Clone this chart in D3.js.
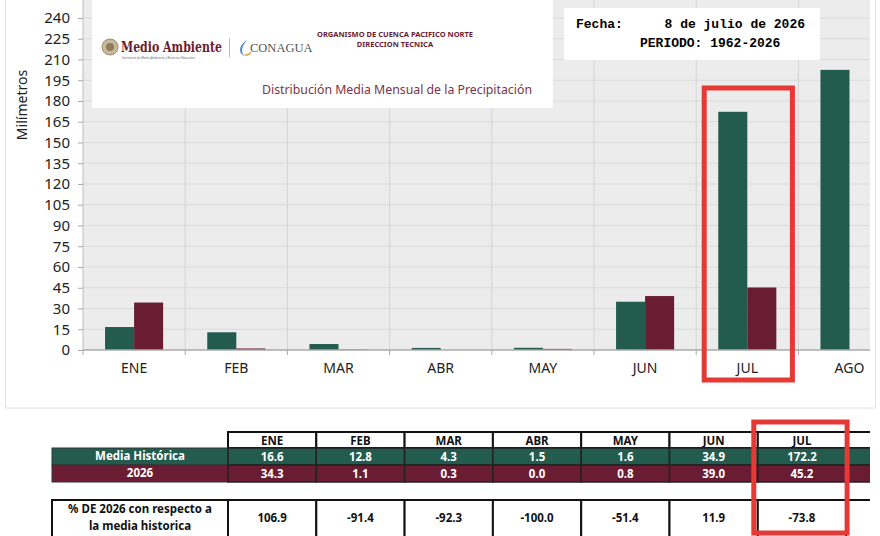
<!DOCTYPE html>
<html>
<head>
<meta charset="utf-8">
<script src="https://cdn.jsdelivr.net/npm/d3@7"></script>
<style>
  body { margin: 0; background: #fff; }
  text { font-family: "Noto Sans", sans-serif; }
  .mono { font-family: "Liberation Mono", "DejaVu Sans Mono", monospace; font-weight: bold; }
</style>
</head>
<body>
<svg id="chart" width="880" height="536"></svg>
<script>
// --- data ---
const months = ["ENE", "FEB", "MAR", "ABR", "MAY", "JUN", "JUL", "AGO"];
const mediaHistorica = [16.6, 12.8, 4.3, 1.5, 1.6, 34.9, 172.2, 202.5];
const lluvia2026 = [34.3, 1.1, 0.3, 0.0, 0.8, 39.0, 45.2, null];
const pctRespecto = [106.9, -91.4, -92.3, -100.0, -51.4, 11.9, -73.8, null];
const yTicks = d3.range(0, 241, 15);
const highlight = "JUL";

const GREEN = "#235b4e", MAROON = "#691c32";

const svg = d3.select("#chart");

// outer frame of the chart part
svg.append("rect").attr("x", 5.5).attr("y", -2).attr("width", 870).attr("height", 410)
    .attr("fill", "none").attr("stroke", "#e2e2e2");

// --- scales ---
const x = d3.scaleBand().domain(months).range([83, 83 + 8 * 102.2]);
const xIn = d3.scaleBand().domain(["media", "y2026"]).range([0, x.bandwidth()]).paddingInner(0).paddingOuter(0.76);
const y = d3.scaleLinear().domain([0, 240]).range([350, 18]);

const plot = svg.append("g");
plot.append("clipPath").attr("id", "clip").append("rect").attr("x", 83).attr("y", 0).attr("width", 787).attr("height", 352);
const inner = plot.append("g").attr("clip-path", "url(#clip)");

inner.append("rect").attr("x", 83).attr("y", 0).attr("width", 787).attr("height", 350).attr("fill", "#ececec");

// grid
inner.append("g").selectAll("line").data(yTicks.slice(1)).join("line")
    .attr("x1", 83).attr("x2", 870).attr("y1", d => y(d)).attr("y2", d => y(d))
    .attr("stroke", "#dadada");
inner.append("g").selectAll("line").data(months.slice(1)).join("line")
    .attr("x1", d => x(d)).attr("x2", d => x(d)).attr("y1", 0).attr("y2", 350)
    .attr("stroke", "#d4d4d4");

// bars
const groups = inner.append("g").selectAll("g").data(months).join("g")
    .attr("transform", d => `translate(${x(d)},0)`);
groups.append("rect")
    .attr("x", xIn("media")).attr("width", xIn.bandwidth())
    .attr("y", (d, i) => y(mediaHistorica[i])).attr("height", (d, i) => y(0) - y(mediaHistorica[i]))
    .attr("fill", GREEN);
groups.filter((d, i) => lluvia2026[i] != null).append("rect")
    .attr("x", xIn("y2026")).attr("width", xIn.bandwidth())
    .attr("y", d => y(lluvia2026[months.indexOf(d)]))
    .attr("height", d => Math.max(y(0) - y(lluvia2026[months.indexOf(d)]), 0))
    .attr("fill", MAROON);

// axes
const yAxis = svg.append("g").attr("transform", "translate(83,0)")
    .call(d3.axisLeft(y).tickValues(yTicks).tickSize(5).tickPadding(8));
yAxis.select(".domain").attr("d", "M0,0V350").attr("stroke", "#bbb");
yAxis.selectAll(".tick line").attr("stroke", "#aaa");
yAxis.selectAll("text").style("font-size", "15px").attr("fill", "#222");

const xAxis = svg.append("g").attr("transform", "translate(0,350)");
xAxis.append("line").attr("x1", 83).attr("x2", 870).attr("stroke", "#aaa").attr("stroke-width", 1.5);
xAxis.selectAll("line.tk").data(months).join("line").attr("class", "tk")
    .attr("x1", d => x(d)).attr("x2", d => x(d)).attr("y1", 0).attr("y2", 5).attr("stroke", "#aaa");
xAxis.selectAll("text").data(months).join("text")
    .attr("x", d => x(d) + x.bandwidth() / 2).attr("y", 23)
    .attr("text-anchor", "middle").style("font-size", "14px").attr("fill", "#222").text(d => d);

svg.append("text").attr("transform", "translate(27,105) rotate(-90)")
    .attr("text-anchor", "middle").style("font-size", "14px").attr("fill", "#222").text("Milímetros");

// --- logo box ---
const logo = svg.append("g");
logo.append("rect").attr("x", 92).attr("y", 0).attr("width", 461).attr("height", 108).attr("fill", "#fff");
logo.append("circle").attr("cx", 110).attr("cy", 47).attr("r", 8).attr("fill", "#c9b99a").attr("stroke", "#9d8d6e");
logo.append("circle").attr("cx", 110).attr("cy", 47).attr("r", 4).attr("fill", "#8c7c5c");
logo.append("text").attr("x", 121).attr("y", 52).attr("fill", MAROON)
    .style("font-family", "'DejaVu Serif', serif").style("font-weight", "bold").style("font-size", "14px")
    .attr("textLength", 101).attr("lengthAdjust", "spacingAndGlyphs").text("Medio Ambiente");
logo.append("text").attr("x", 122).attr("y", 59).attr("fill", "#666").style("font-size", "3px")
    .text("Secretaría de Medio Ambiente y Recursos Naturales");
logo.append("line").attr("x1", 229.5).attr("x2", 229.5).attr("y1", 38).attr("y2", 57).attr("stroke", "#bbb");
logo.append("path").attr("d", "M247,40 C240,44 237,52 244,56 C240,50 243,45 247,40 Z").attr("fill", "#5b8cc4");
logo.append("path").attr("d", "M243,55 C247,57 251,55 252,51 C249,54 246,54 243,55 Z").attr("fill", "#e0a040");
logo.append("text").attr("x", 250).attr("y", 52).attr("fill", "#555")
    .style("font-family", "'Liberation Serif', serif").style("font-size", "12.5px").text("CONAGUA");
logo.append("text").attr("x", 395).attr("y", 37).attr("text-anchor", "middle").attr("fill", MAROON)
    .style("font-weight", "bold").style("font-size", "7.5px").text("ORGANISMO DE CUENCA PACIFICO NORTE");
logo.append("text").attr("x", 395).attr("y", 47).attr("text-anchor", "middle").attr("fill", MAROON)
    .style("font-weight", "bold").style("font-size", "7.5px").text("DIRECCION TECNICA");
logo.append("text").attr("x", 397).attr("y", 94).attr("text-anchor", "middle").attr("fill", "#7b3447")
    .style("font-size", "12.3px").text("Distribución Media Mensual de la Precipitación");

// fecha box
const fecha = svg.append("g");
fecha.append("rect").attr("x", 564).attr("y", 8).attr("width", 256).attr("height", 52).attr("fill", "#fff");
fecha.append("text").attr("class", "mono").attr("x", 576).attr("y", 28).style("font-size", "13px").text("Fecha:");
fecha.append("text").attr("class", "mono").attr("x", 805).attr("y", 28).attr("text-anchor", "end").style("font-size", "13px").text("8 de julio de 2026");
fecha.append("text").attr("class", "mono").attr("x", 640).attr("y", 47).style("font-size", "13px").text("PERIODO: 1962-2026");

// red highlight in chart
svg.append("rect").attr("x", x(highlight) + 8).attr("y", 88).attr("width", x.bandwidth() - 14).attr("height", 292)
    .attr("fill", "none").attr("stroke", "#e53935").attr("stroke-width", 5);

// --- table ---
const tbl = svg.append("g");
tbl.append("clipPath").attr("id", "tclip").append("rect").attr("x", 0).attr("y", 0).attr("width", 870).attr("height", 536);
const t = tbl.append("g").attr("clip-path", "url(#tclip)");
const c = d3.scaleBand().domain(months).range([228, 228 + 8 * 88.3]);
const labelX0 = 52;
const rows = [
    {name: "Media Histórica", vals: mediaHistorica, fill: GREEN, y0: 448, y1: 465},
    {name: "2026", vals: lluvia2026, fill: MAROON, y0: 465, y1: 482}
];
const fmt = v => d3.format(".1f")(v).replace("\u2212", "-");

// header
t.selectAll("rect.h").data(months).join("rect").attr("class", "h")
    .attr("x", d => c(d)).attr("y", 432).attr("width", c.bandwidth()).attr("height", 16)
    .attr("fill", "#fff").attr("stroke", "#111").attr("stroke-width", 2);
t.selectAll("text.h").data(months.slice(0, 7)).join("text").attr("class", "h")
    .attr("x", d => c(d) + c.bandwidth() / 2).attr("y", 444.5).attr("text-anchor", "middle")
    .style("font-size", "11.5px").style("font-weight", "bold").attr("fill", "#111").text(d => d);

rows.forEach(r => {
    t.append("rect").attr("x", labelX0).attr("y", r.y0).attr("width", c(months[0]) - labelX0).attr("height", r.y1 - r.y0)
        .attr("fill", r.fill).attr("stroke", "#333").attr("stroke-width", 1);
    t.append("text").attr("x", (labelX0 + c(months[0])) / 2).attr("y", r.y0 + 12).attr("text-anchor", "middle")
        .style("font-size", "11.5px").style("font-weight", "bold").attr("fill", "#fff").text(r.name);
    t.selectAll(null).data(months).join("rect")
        .attr("x", d => c(d)).attr("y", r.y0).attr("width", c.bandwidth()).attr("height", r.y1 - r.y0)
        .attr("fill", r.fill).attr("stroke", "#222").attr("stroke-width", 1.5);
    t.selectAll(null).data(months.filter((d, i) => r.vals[i] != null && i < 7)).join("text")
        .attr("x", d => c(d) + c.bandwidth() / 2).attr("y", r.y0 + 12.5).attr("text-anchor", "middle")
        .style("font-size", "11.5px").style("font-weight", "bold").attr("fill", "#fff")
        .text(d => fmt(r.vals[months.indexOf(d)]));
});

// percentage row
t.append("rect").attr("x", labelX0).attr("y", 500).attr("width", c(months[0]) - labelX0).attr("height", 40)
    .attr("fill", "#fff").attr("stroke", "#111").attr("stroke-width", 2);
t.append("text").attr("x", (labelX0 + c(months[0])) / 2).attr("y", 513).attr("text-anchor", "middle")
    .style("font-size", "11.5px").style("font-weight", "bold").attr("fill", "#111").text("% DE 2026 con respecto a");
t.append("text").attr("x", (labelX0 + c(months[0])) / 2).attr("y", 530).attr("text-anchor", "middle")
    .style("font-size", "11.5px").style("font-weight", "bold").attr("fill", "#111").text("la media historica");
t.selectAll("rect.p").data(months).join("rect").attr("class", "p")
    .attr("x", d => c(d)).attr("y", 500).attr("width", c.bandwidth()).attr("height", 40)
    .attr("fill", "#fff").attr("stroke", "#111").attr("stroke-width", 2);
t.selectAll("text.p").data(months.filter((d, i) => pctRespecto[i] != null)).join("text").attr("class", "p")
    .attr("x", d => c(d) + c.bandwidth() / 2).attr("y", 522).attr("text-anchor", "middle")
    .style("font-size", "11.5px").style("font-weight", "bold").attr("fill", "#111")
    .text(d => fmt(pctRespecto[months.indexOf(d)]));

// red highlight in table
svg.append("rect").attr("x", c(highlight) - 4).attr("y", 422).attr("width", c.bandwidth() + 5).attr("height", 111)
    .attr("fill", "none").attr("stroke", "#e53935").attr("stroke-width", 5);
</script>
</body>
</html>
